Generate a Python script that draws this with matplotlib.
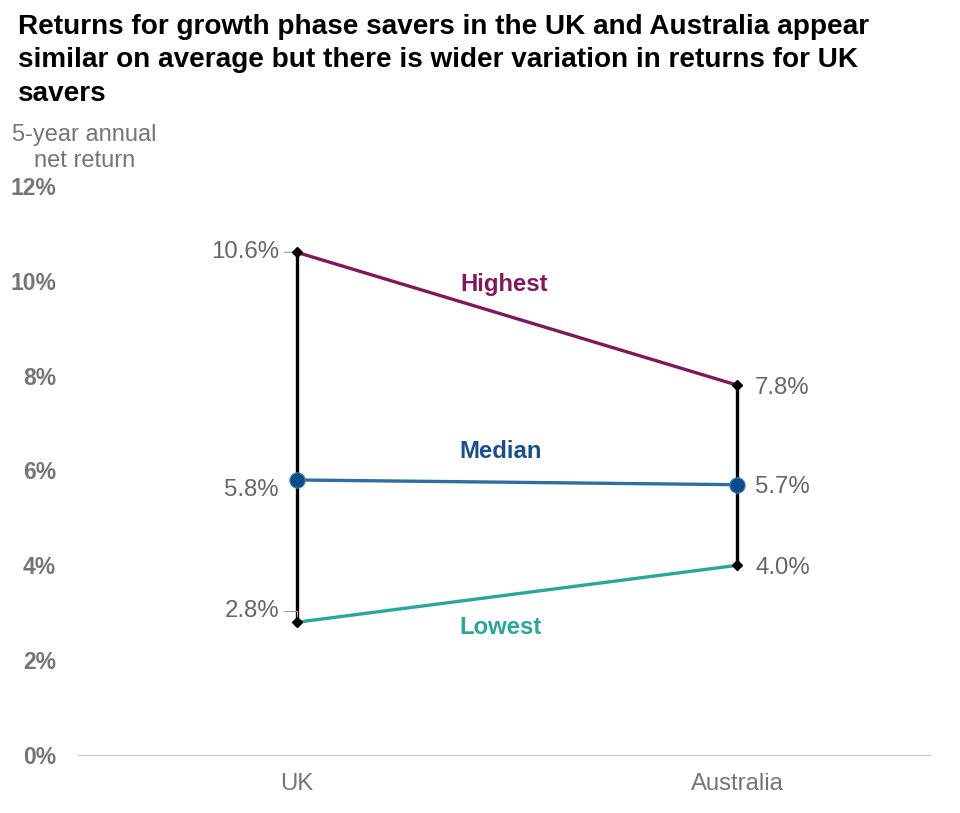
import matplotlib.pyplot as plt

plt.rcParams['font.family'] = ['Liberation Sans', 'DejaVu Sans']

# Data
countries = ["UK", "Australia"]
highest = [10.6, 7.8]
median = [5.8, 5.7]
lowest = [2.8, 4.0]
y_ticks = [0, 2, 4, 6, 8, 10, 12]

GRAY = "#757575"
C_HIGH = "#80185A"
C_MED = "#2F6E9E"
C_MED_DOT = "#0D4C88"
C_MED_TXT = "#1B4F8A"
C_LOW = "#2AA69A"

fig = plt.figure(figsize=(9.6, 8.13), dpi=100)
ax = fig.add_axes([0.081, 0.0713, 0.888, 0.7])

x = list(range(len(countries)))

# vertical range bars
for i in x:
    ax.plot([i, i], [lowest[i], highest[i]], color="black", lw=2.4, zorder=2)

ax.plot(x, highest, color=C_HIGH, lw=2.4, zorder=3)
ax.plot(x, lowest, color=C_LOW, lw=2.4, zorder=3)
ax.plot(x, median, color=C_MED, lw=2.4, zorder=3)

ax.plot(x, highest, ls="none", marker="D", ms=5.5, color="black", zorder=4)
ax.plot(x, lowest, ls="none", marker="D", ms=5.5, color="black", zorder=4)
ax.plot(x, median, ls="none", marker="o", ms=11, color=C_MED_DOT,
        markeredgecolor="#3F7FB8", markeredgewidth=0.8, zorder=5)

# value labels
val_kw = dict(fontsize=17.3, color="#666666", va="center", textcoords="offset points")
left_dy = [0, -7, 8]
for vals, dy in zip([highest, median, lowest], left_dy):
    ax.annotate(f"{vals[0]:.1f}%", (x[0], vals[0]), xytext=(-13, dy), ha="right", **val_kw)
    ax.annotate(f"{vals[1]:.1f}%", (x[1], vals[1]), xytext=(13, -2), ha="left", **val_kw)

# little leader lines on the UK labels
ax.annotate("", (x[0], highest[0]), xytext=(-9, 0), textcoords="offset points",
            arrowprops=dict(arrowstyle="-", color="#999999", lw=0.8, shrinkA=0, shrinkB=0))
ax.annotate("", (x[0], lowest[0]), xytext=(-9, 8), textcoords="offset points",
            arrowprops=dict(arrowstyle="-", color="#999999", lw=0.8, shrinkA=0, shrinkB=0,
                            connectionstyle="angle,angleA=0,angleB=90,rad=0"))

# series names above / below the lines
mid_x = (x[0] + x[1]) / 2
name_kw = dict(fontsize=17.2, fontweight="bold", ha="center", va="center",
               textcoords="offset points")
ax.annotate("Highest", (mid_x, sum(highest) / 2), xytext=(-9, 25), color=C_HIGH, **name_kw)
ax.annotate("Median", (mid_x, sum(median) / 2), xytext=(-11.5, 22), color=C_MED_TXT, **name_kw)
ax.annotate("Lowest", (mid_x, sum(lowest) / 2), xytext=(-12, -24), color=C_LOW, **name_kw)

# axes styling
ax.set_xlim(-0.498, 1.439)
ax.set_ylim(0, 12)
ax.set_yticks(y_ticks)
ax.set_yticklabels([f"{t}%" for t in y_ticks], fontsize=16.5, fontweight="bold", color=GRAY)
ax.set_xticks(x)
ax.set_xticklabels(countries, fontsize=17.2, color=GRAY)
ax.tick_params(axis="y", length=0, pad=15.5)
ax.tick_params(axis="x", length=0, pad=13)
for side in ["top", "right", "left"]:
    ax.spines[side].set_visible(False)
ax.spines["bottom"].set_color("#CCCCCC")
ax.spines["bottom"].set_linewidth(1)

fig.text(0.088, 0.818, "5-year annual\nnet return", fontsize=17, color=GRAY,
         ha="center", va="center", linespacing=1.2)

fig.text(0.019, 0.983,
         "Returns for growth phase savers in the UK and Australia appear\n"
         "similar on average but there is wider variation in returns for UK\n"
         "savers",
         fontsize=20.1, fontweight="bold", color="black", ha="left", va="top",
         linespacing=1.38)

fig.savefig("out.png", dpi=100)
